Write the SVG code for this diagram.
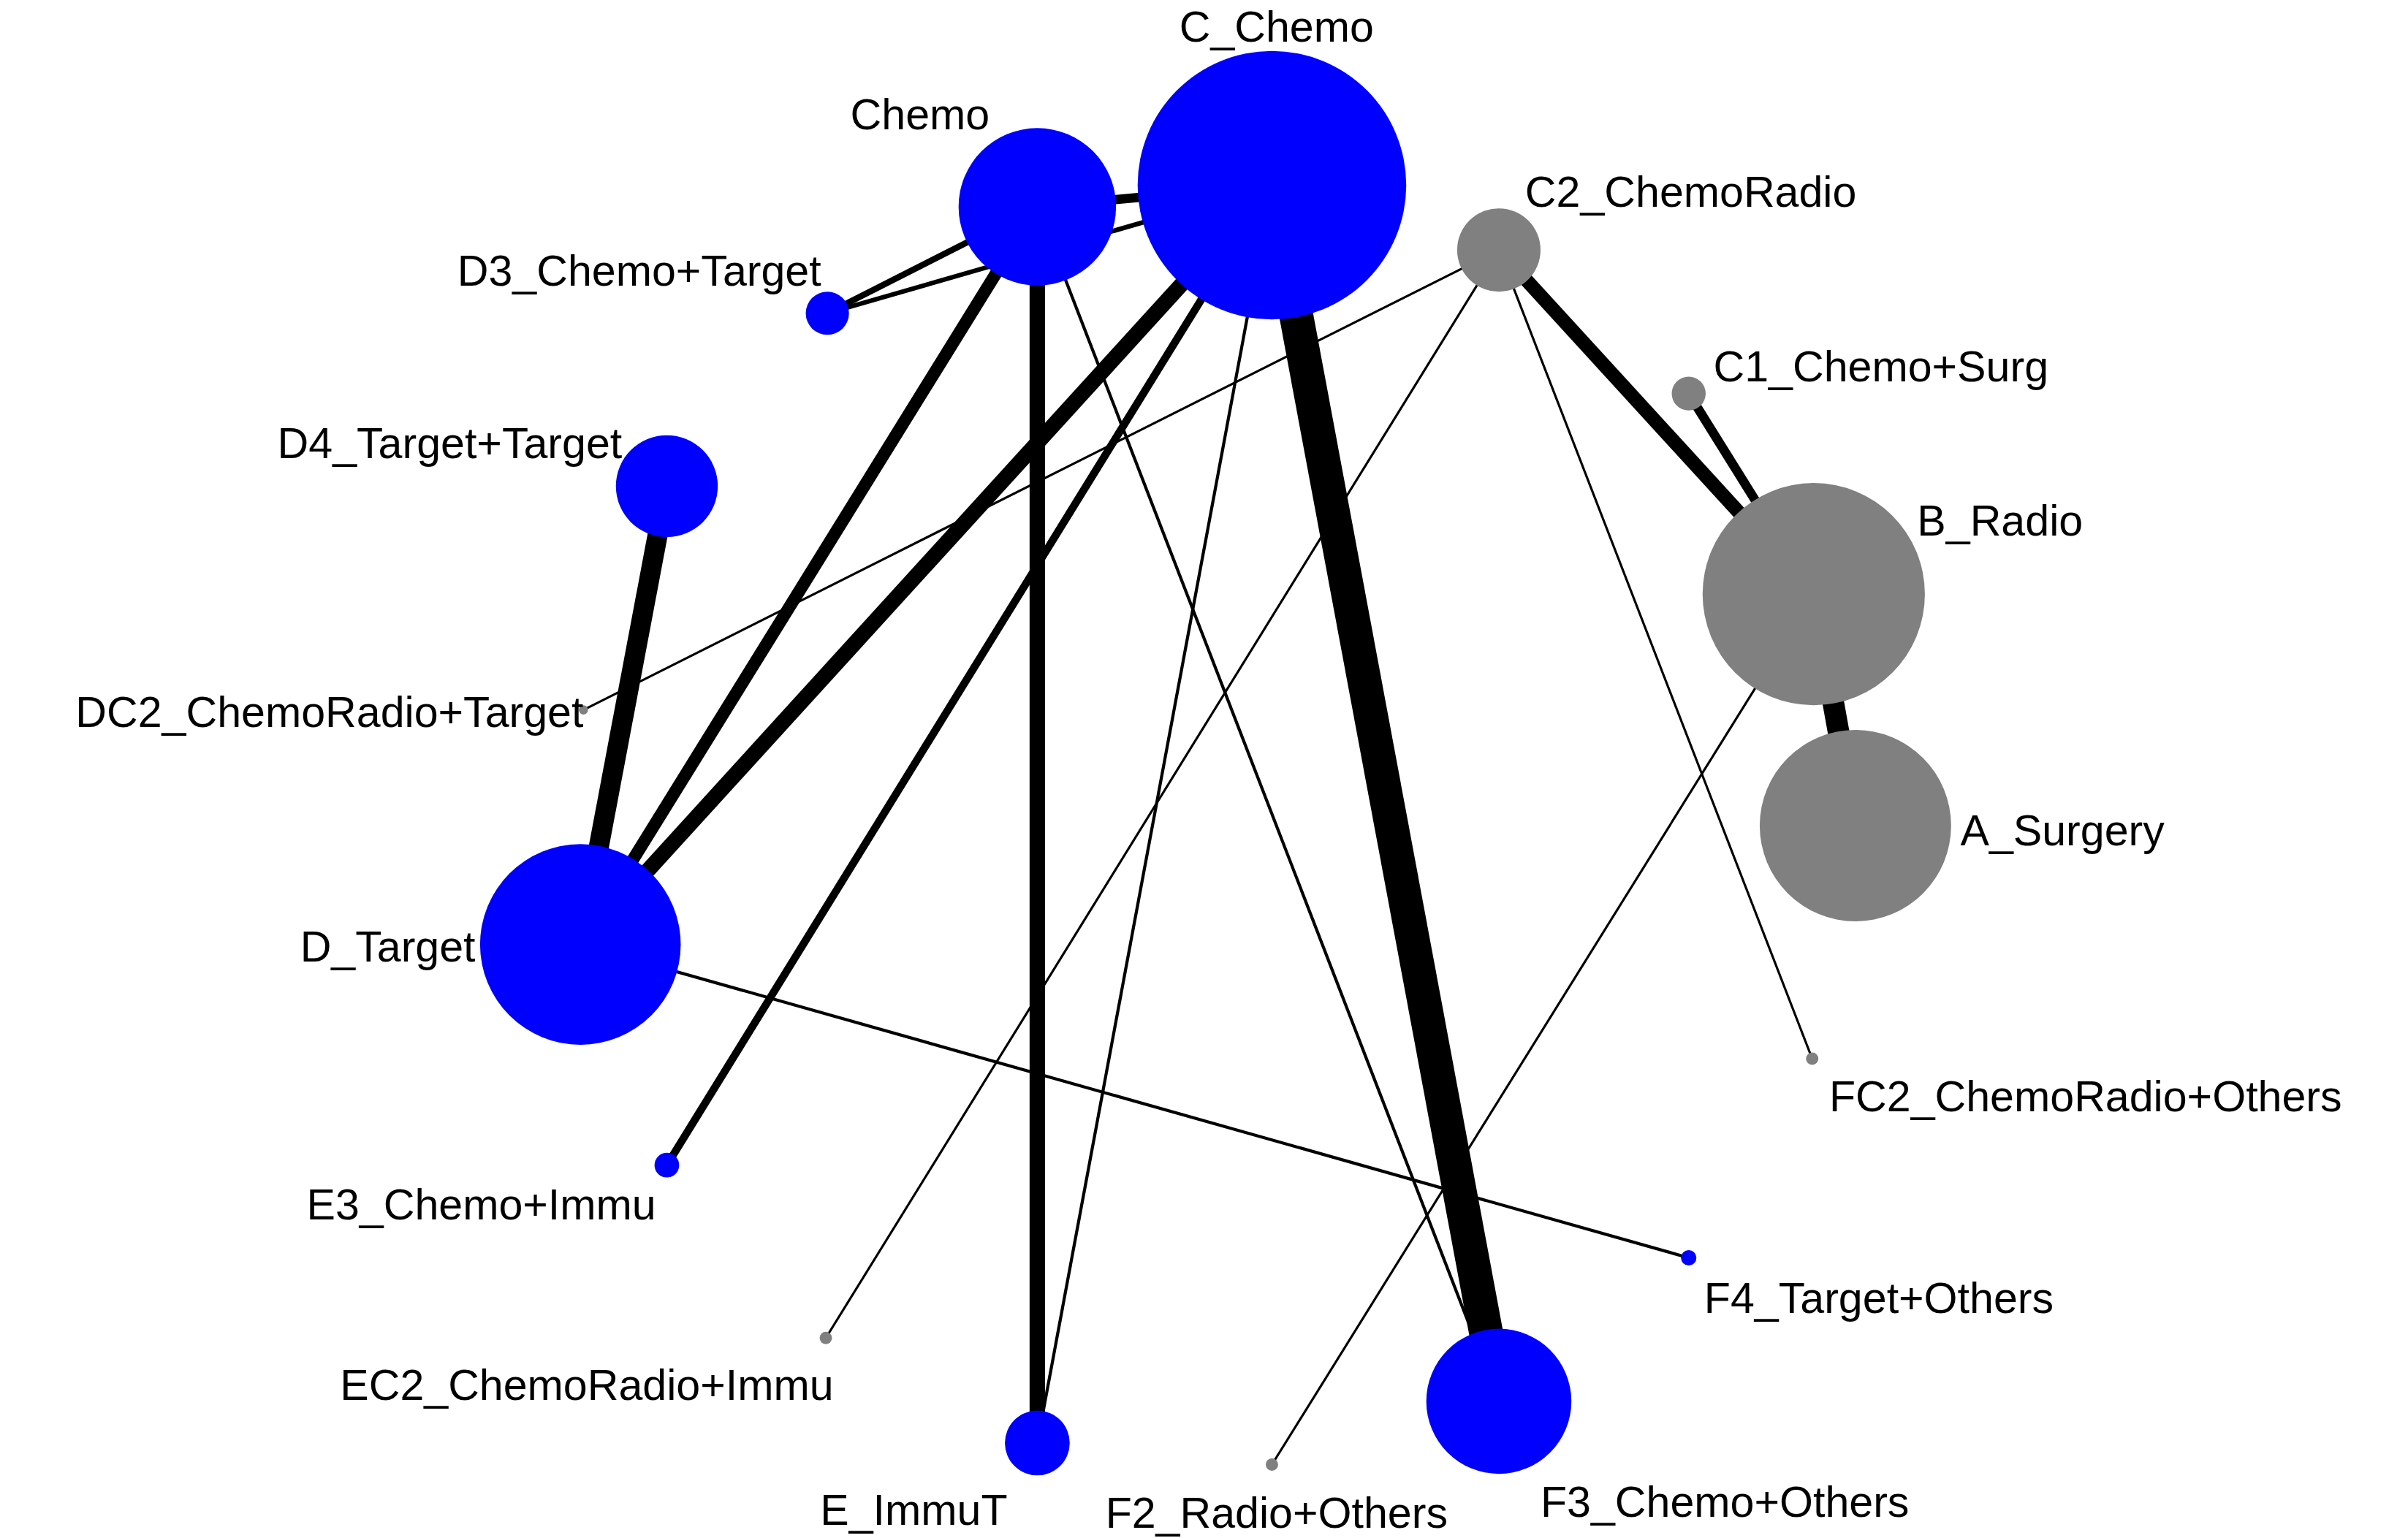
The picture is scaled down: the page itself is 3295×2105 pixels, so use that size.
<svg xmlns="http://www.w3.org/2000/svg" width="3295" height="2105" viewBox="0 0 3295 2105">
<style>
.b{fill:#0000ff}.g{fill:#808080}
.e{stroke:#000;fill:none}
text{font-family:"Liberation Sans",Arial,sans-serif;font-size:28px;fill:#000}
</style>
<rect width="3295" height="2105" fill="#fff"/>
<g transform="scale(2.1122)">
<g id="connectors">
<line class="e" x1="824" y1="120" x2="971" y2="908" stroke-width="22"/>
<line class="e" x1="672" y1="134" x2="824" y2="120" stroke-width="6"/>
<line class="e" x1="672" y1="134" x2="536" y2="203" stroke-width="4"/>
<line class="e" x1="824" y1="120" x2="536" y2="203" stroke-width="3"/>
<line class="e" x1="672" y1="134" x2="376" y2="612" stroke-width="8"/>
<line class="e" x1="824" y1="120" x2="376" y2="612" stroke-width="10"/>
<line class="e" x1="672" y1="134" x2="672" y2="935" stroke-width="10"/>
<line class="e" x1="824" y1="120" x2="432" y2="755" stroke-width="5"/>
<line class="e" x1="824" y1="120" x2="672" y2="935" stroke-width="2"/>
<line class="e" x1="672" y1="134" x2="971" y2="908" stroke-width="2"/>
<line class="e" x1="971" y1="162" x2="378" y2="460" stroke-width="1.5"/>
<line class="e" x1="971" y1="162" x2="535" y2="867" stroke-width="1.5"/>
<line class="e" x1="971" y1="162" x2="1175" y2="385" stroke-width="9"/>
<line class="e" x1="971" y1="162" x2="1174" y2="686" stroke-width="1.5"/>
<line class="e" x1="1094" y1="255" x2="1175" y2="385" stroke-width="6"/>
<line class="e" x1="1175" y1="385" x2="1202" y2="535" stroke-width="14"/>
<line class="e" x1="1175" y1="385" x2="824" y2="949" stroke-width="1.5"/>
<line class="e" x1="432" y1="315" x2="376" y2="612" stroke-width="13"/>
<line class="e" x1="376" y1="612" x2="1094" y2="815" stroke-width="2"/>
</g>
<g id="C_Chemo"><circle class="b" cx="824" cy="120" r="87"/><text x="827" y="27" text-anchor="middle">C_Chemo</text></g>
<g id="Chemo"><circle class="b" cx="672" cy="134" r="51"/><text x="596" y="84" text-anchor="middle">Chemo</text></g>
<g id="D3"><circle class="b" cx="536" cy="203" r="14"/><text x="532" y="185" text-anchor="end">D3_Chemo+Target</text></g>
<g id="C2"><circle class="g" cx="971" cy="162" r="27"/><text x="988" y="134">C2_ChemoRadio</text></g>
<g id="C1"><circle class="g" cx="1094" cy="255" r="11"/><text x="1110" y="247">C1_Chemo+Surg</text></g>
<g id="B_Radio"><circle class="g" cx="1175" cy="385" r="72"/><text x="1242" y="347">B_Radio</text></g>
<g id="A_Surgery"><circle class="g" cx="1202" cy="535" r="62"/><text x="1270" y="548">A_Surgery</text></g>
<g id="D4"><circle class="b" cx="432" cy="315" r="33"/><text x="403" y="297" text-anchor="end">D4_Target+Target</text></g>
<g id="DC2"><circle class="g" cx="378" cy="460" r="3"/><text x="378" y="471" text-anchor="end">DC2_ChemoRadio+Target</text></g>
<g id="D_Target"><circle class="b" cx="376" cy="612" r="65"/><text x="308" y="623" text-anchor="end">D_Target</text></g>
<g id="FC2"><circle class="g" cx="1174" cy="686" r="4"/><text x="1185" y="720">FC2_ChemoRadio+Others</text></g>
<g id="E3"><circle class="b" cx="432" cy="755" r="8"/><text x="425" y="790" text-anchor="end">E3_Chemo+Immu</text></g>
<g id="F4"><circle class="b" cx="1094" cy="815" r="5"/><text x="1104" y="851">F4_Target+Others</text></g>
<g id="EC2"><circle class="g" cx="535" cy="867" r="4"/><text x="540" y="907" text-anchor="end">EC2_ChemoRadio+Immu</text></g>
<g id="E_ImmuT"><circle class="b" cx="672" cy="935" r="21"/><text x="592" y="988" text-anchor="middle">E_ImmuT</text></g>
<g id="F2"><circle class="g" cx="824" cy="949" r="4"/><text x="827" y="990" text-anchor="middle">F2_Radio+Others</text></g>
<g id="F3"><circle class="b" cx="971" cy="908" r="47"/><text x="998" y="983">F3_Chemo+Others</text></g>
</g>
</svg>
